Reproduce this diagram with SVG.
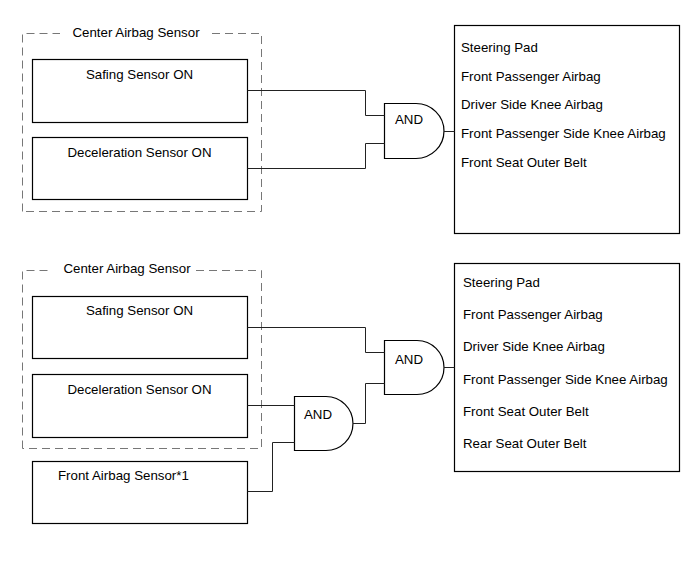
<svg xmlns="http://www.w3.org/2000/svg" width="691" height="562" viewBox="0 0 691 562">
<style>
text{font-family:"Liberation Sans",Arial,sans-serif;font-size:13.3px;fill:#000}
.box{fill:#fff;stroke:#000;stroke-width:1.2}
.dash{fill:none;stroke:#777;stroke-width:1;stroke-dasharray:8 5}
.gate{fill:#fff;stroke:#000;stroke-width:1.2}
.wire{fill:none;stroke:#222;stroke-width:1}
.c{text-anchor:middle}
</style>
<rect width="691" height="562" fill="#fff"/>
<!-- Top section -->
<g id="cas1">
<path class="dash" d="M22.5,211.5 V33.5 H60 M212,33.5 H261.5 V211.5 H22.5"/>
<text x="136" y="37" class="c">Center Airbag Sensor</text>
</g>
<g id="safing1"><rect class="box" x="32.5" y="59.5" width="215" height="63"/><text x="139.5" y="79" class="c">Safing Sensor ON</text></g>
<g id="decel1"><rect class="box" x="32.5" y="137.5" width="215" height="62"/><text x="139.5" y="157" class="c">Deceleration Sensor ON</text></g>
<g id="and1"><path class="gate" d="M384.5,103.5 H416 A28,27.5 0 0 1 416,158.5 H384.5 Z"/><text x="395" y="124">AND</text></g>
<g id="out1"><rect class="box" x="454.5" y="25.5" width="225" height="208"/>
<text x="461" y="52">Steering Pad</text>
<text x="461" y="81">Front Passenger Airbag</text>
<text x="461" y="109">Driver Side Knee Airbag</text>
<text x="461" y="138">Front Passenger Side Knee Airbag</text>
<text x="461" y="167">Front Seat Outer Belt</text>
</g>
<!-- Bottom section -->
<g id="cas2">
<path class="dash" d="M22.5,448.5 V270.5 H50 M196,270.5 H261.5 V448.5 H22.5"/>
<text x="127" y="273" class="c">Center Airbag Sensor</text>
</g>
<g id="safing2"><rect class="box" x="32.5" y="296.5" width="215" height="62"/><text x="139.5" y="315" class="c">Safing Sensor ON</text></g>
<g id="decel2"><rect class="box" x="32.5" y="374.5" width="215" height="63"/><text x="139.5" y="394" class="c">Deceleration Sensor ON</text></g>
<g id="front"><rect class="box" x="32.5" y="461.5" width="215" height="62"/><text x="58" y="480">Front Airbag Sensor*1</text></g>
<g id="and2"><path class="gate" d="M384.5,340.5 H417 A27,27 0 0 1 417,394.5 H384.5 Z"/><text x="395" y="364">AND</text></g>
<g id="and3"><path class="gate" d="M294.5,396.5 H326 A27,27 0 0 1 326,450.5 H294.5 Z"/><text x="304" y="419">AND</text></g>
<g id="out2"><rect class="box" x="454.5" y="263.5" width="225" height="208"/>
<text x="463" y="287">Steering Pad</text>
<text x="463" y="319">Front Passenger Airbag</text>
<text x="463" y="351">Driver Side Knee Airbag</text>
<text x="463" y="384">Front Passenger Side Knee Airbag</text>
<text x="463" y="416">Front Seat Outer Belt</text>
<text x="463" y="448">Rear Seat Outer Belt</text>
</g>
<g id="connectors">
<path class="wire" d="M247.5,90.5 H365.5 V115.5 H384.5"/>
<path class="wire" d="M247.5,168.5 H365.5 V143.5 H384.5"/>
<path class="wire" d="M444,131.5 H454.5"/>
<path class="wire" d="M247.5,327.5 H365.5 V352.5 H384.5"/>
<path class="wire" d="M353,423.5 H365.5 V383.5 H384.5"/>
<path class="wire" d="M444,367.5 H454.5"/>
<path class="wire" d="M247.5,405.5 H294.5"/>
<path class="wire" d="M247.5,491.5 H272.5 V442.5 H294.5"/>
</g>
</svg>
